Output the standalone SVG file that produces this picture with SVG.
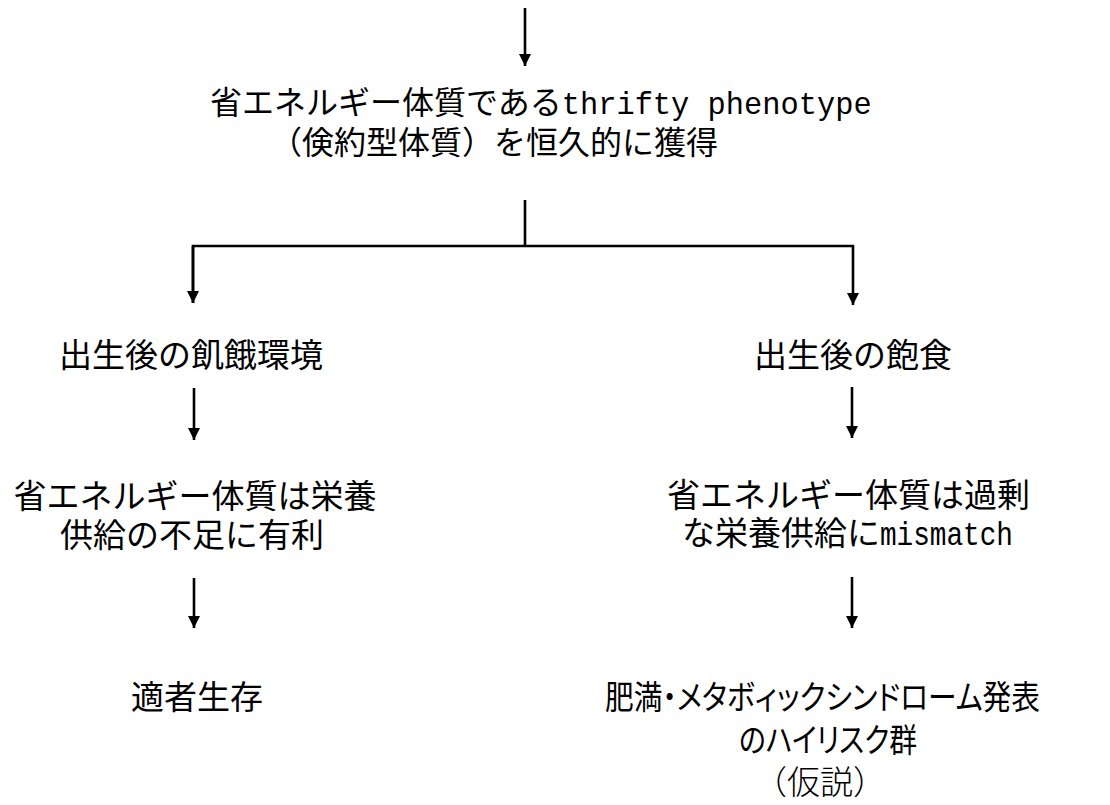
<svg xmlns="http://www.w3.org/2000/svg" width="1110" height="805" viewBox="0 0 1110 805">
<style>
.t{font-family:"Noto Sans CJK JP","Liberation Sans",sans-serif;font-size:33px;fill:#000;}
.c{text-anchor:middle;}
.lat{font-family:"Liberation Mono","DejaVu Sans Mono",monospace;}
.p{font-feature-settings:"palt";}
.ln{stroke:#000;stroke-width:2.6;fill:none;}
</style>
<defs>
<marker id="ah" markerUnits="userSpaceOnUse" markerWidth="13" markerHeight="12" refX="12" refY="6" orient="auto">
<path d="M0,0 L12,6 L0,12 z" fill="#000"/>
</marker>
</defs>
<rect width="1110" height="805" fill="#fff"/>
<g id="connectors">
<line class="ln" x1="525" y1="8" x2="525" y2="66" marker-end="url(#ah)"/>
<polyline class="ln" points="525,200 525,246"/>
<polyline class="ln" points="193,303 193,246 853,246 853,305" marker-end="url(#ah)"/>
<line class="ln" x1="193" y1="246" x2="193" y2="303" marker-end="url(#ah)"/>
<line class="ln" x1="194" y1="388" x2="194" y2="440" marker-end="url(#ah)"/>
<line class="ln" x1="194" y1="578" x2="194" y2="628" marker-end="url(#ah)"/>
<line class="ln" x1="852" y1="387" x2="852" y2="438" marker-end="url(#ah)"/>
<line class="ln" x1="852" y1="577" x2="852" y2="628" marker-end="url(#ah)"/>
</g>
<g id="node-top">
<text class="t" style="font-size:32px"><tspan x="210" y="114">省エネルギー体質である<tspan class="lat" textLength="310" lengthAdjust="spacingAndGlyphs">thrifty phenotype</tspan></tspan><tspan x="270" y="154">（倹約型体質）を恒久的に獲得</tspan></text>
</g>
<g id="node-left1">
<text class="t c" x="191" y="367">出生後の飢餓環境</text>
</g>
<g id="node-right1">
<text class="t c" x="853" y="367">出生後の飽食</text>
</g>
<g id="node-left2">
<text class="t c"><tspan x="195" y="508">省エネルギー体質は栄養</tspan><tspan x="192" y="547">供給の不足に有利</tspan></text>
</g>
<g id="node-right2">
<text class="t"><tspan x="667" y="507">省エネルギー体質は過剰</tspan><tspan x="682" y="545">な栄養供給に<tspan class="lat" textLength="133" lengthAdjust="spacingAndGlyphs">mismatch</tspan></tspan></text>
</g>
<g id="node-left3">
<text class="t c" x="197" y="709">適者生存</text>
</g>
<g id="node-right3">
<text class="t p"><tspan x="605" y="709" textLength="435" lengthAdjust="spacingAndGlyphs">肥満・メタボィックシンドローム発表</tspan><tspan x="739" y="752" textLength="178" lengthAdjust="spacingAndGlyphs">のハイリスク群</tspan><tspan x="754" y="794" style="font-weight:300;font-feature-settings:normal">（仮説）</tspan></text>
</g>
</svg>
